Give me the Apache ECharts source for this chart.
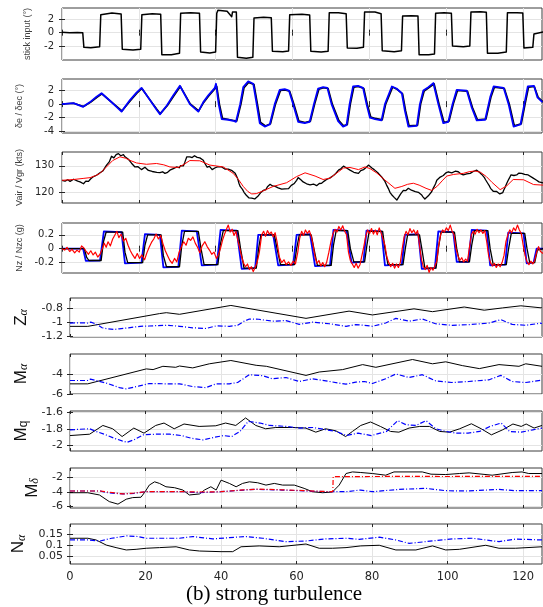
<!DOCTYPE html>
<html><head><meta charset="utf-8">
<script src="https://cdn.jsdelivr.net/npm/echarts@6/dist/echarts.min.js"></script>
<style>html,body{margin:0;padding:0;background:#fff}#c{width:543px;height:607px}</style>
</head><body><div id="c"></div>
<script>
// ---------------- tick labels ----------------
const X_TICKS=[0,20,40,60,80,100,120];
const TICKS_STICK=[-2,0,2];
const TICKS_DE=[-4,-2,0,2];
const TICKS_V=[120,130];
const TICKS_NZ=[-0.2,0,0.2];
const TICKS_ZA=[-1.2,-1,-0.8];
const TICKS_MA=[-6,-4];
const TICKS_MQ=[-2,-1.8,-1.6];
const TICKS_MD=[-6,-4,-2];
const TICKS_NA=[0.05,0.1,0.15];

// ---------------- data: [time (s), value] ----------------
const stickInput=[[0,0.05],[2,0.0],[4,0.02],[5.4,0],[5.7,-2.2],[7.5,-2.25],[9.8,-2.1],[10.1,2.7],[10.4,3.0],[13,2.95],[15.4,2.8],[15.7,-2.5],[16,-2.65],[18.5,-2.6],[20.5,-2.5],[20.8,2.7],[21.1,2.95],[23.5,2.85],[25.7,2.75],[26,-3.3],[26.3,-3.45],[28.5,-3.3],[30.6,-3.1],[30.9,2.9],[31.2,3.2],[33.5,3.0],[35.8,2.9],[36.1,-2.9],[36.4,-3.0],[38.5,-3.05],[40.0,-2.9],[40.3,2.9],[40.6,3.35],[43,3.2],[44.2,2.4],[44.4,3.1],[45.4,3.1],[45.7,-3.7],[46,-3.9],[48,-3.85],[49.7,-3.7],[50,2.2],[50.3,2.45],[52.5,2.3],[54.5,2.25],[54.8,-2.8],[55.1,-2.9],[57.5,-2.85],[59,-2.75],[59.3,2.7],[59.6,2.85],[62.5,2.75],[64.5,2.65],[64.8,-2.8],[65.1,-2.95],[67.5,-2.9],[69.3,-2.8],[69.6,3.0],[69.9,3.15],[72,3.0],[74,2.85],[74.3,-2.3],[74.6,-2.4],[76.8,-2.35],[78.5,-2.2],[78.8,3.1],[79.1,3.3],[81.5,3.1],[83.1,2.85],[83.4,-2.7],[83.7,-2.9],[86.5,-2.85],[88.4,-2.7],[88.7,2.5],[89,2.7],[91,2.55],[92.7,2.5],[93,-3.3],[93.3,-3.45],[95.5,-3.3],[97,-3.2],[97.3,2.9],[97.6,3.1],[99.5,3.0],[101.4,2.9],[101.7,-2.0],[102,-2.2],[104.5,-2.1],[106.2,-2.0],[106.5,3.1],[106.8,3.3],[109,3.15],[110.5,3.05],[110.8,-3.1],[111.1,-3.25],[113.5,-3.1],[115.7,-2.9],[116,3.0],[116.3,3.15],[118.5,3.0],[120,2.95],[120.3,-2.3],[120.6,-2.4],[122.6,-2.2],[122.9,-0.2],[123.3,0.05],[125.3,0.1]];

const elevCmd=[[0,0],[3,0.15],[5.5,-0.4],[7.3,0.3],[9,1.1],[10.3,1.6],[12.5,0.5],[14.2,-0.4],[15.5,-1.1],[17.7,0.6],[19.4,1.7],[20.7,2.4],[22.9,0.6],[24.6,-0.8],[25.5,-1.5],[27.3,-0.2],[29,1.3],[30.7,2.7],[33.3,0],[35.5,-1.1],[36.8,0.3],[38.1,1.3],[39.8,2.4],[40.1,3.0],[40.8,0],[41.6,-2.2],[43.3,-2.3],[44.6,-2.45],[45.3,-2.6],[46.4,0],[47.2,2.5],[48.5,3.35],[49.8,3.0],[50.7,0],[51.5,-2.8],[52.8,-3.3],[54.1,-3.0],[55.4,0],[56.7,2.1],[58,2.2],[59.1,2.0],[60.2,0],[61.5,-2.6],[63.2,-2.8],[64.5,-2.6],[65.6,0],[66.7,2.3],[68,2.5],[69.1,2.4],[70.2,0],[71.9,-2.5],[73.2,-3.3],[74.1,-3.1],[74.9,0],[75.8,2.6],[77.1,2.7],[78.4,2.4],[79.3,0],[80.2,-2.0],[81.5,-2.2],[83.2,-2.4],[84.1,0],[85.9,2.6],[87.1,2.3],[88.5,1.6],[89.3,-1],[90.2,-3.3],[92.4,-3.2],[93.2,0],[94.1,2.0],[95.4,2.5],[96.7,3.1],[98,0],[99.3,-2.8],[100.6,-2.6],[101.7,0],[102.8,2.1],[105.4,2.0],[106.7,-0.5],[108,-2.4],[110.2,-2.3],[111.5,1.0],[112.4,2.6],[115,2.4],[116.3,0],[117.6,-3.3],[119.4,-3.0],[120.4,0],[121.3,2.6],[122.9,2.7],[123.8,1.0],[125.1,0.3]];

const elevAct=[[0,0.02],[3,0.12],[5.6,-0.35],[7.4,0.25],[9.1,1.0],[10.4,1.5],[12.6,0.45],[14.3,-0.35],[15.6,-1.0],[17.8,0.5],[19.5,1.6],[20.8,2.3],[23,0.55],[24.7,-0.75],[25.6,-1.4],[27.4,-0.25],[29.1,1.2],[30.8,2.6],[33.4,0.05],[35.6,-1.0],[36.9,0.25],[38.2,1.2],[39.9,2.3],[40.3,2.6],[41,0],[41.8,-2.1],[43.4,-2.25],[44.7,-2.4],[45.5,-2.5],[46.6,0],[47.4,2.4],[48.6,3.2],[50,2.9],[50.9,0],[51.7,-2.7],[53,-3.2],[54.3,-2.9],[55.6,0],[56.9,2.0],[58.1,2.1],[59.3,1.9],[60.4,0],[61.7,-2.5],[63.3,-2.7],[64.7,-2.5],[65.8,0],[66.9,2.2],[68.1,2.4],[69.3,2.3],[70.4,0],[72.1,-2.4],[73.3,-3.2],[74.3,-3.0],[75.1,0],[76,2.5],[77.2,2.6],[78.6,2.3],[79.5,0],[80.4,-1.9],[81.6,-2.1],[83.4,-2.3],[84.3,0],[86.1,2.5],[87.2,2.2],[88.7,1.5],[89.5,-1],[90.4,-3.2],[92.6,-3.1],[93.4,0],[94.3,1.9],[95.5,2.4],[96.9,3.0],[98.2,0],[99.5,-2.7],[100.8,-2.5],[101.9,0],[103,2.0],[105.6,1.9],[106.9,-0.5],[108.2,-2.3],[110.4,-2.2],[111.7,1.0],[112.6,2.5],[115.2,2.3],[116.5,0],[117.8,-3.2],[119.6,-2.9],[120.6,0],[121.5,2.5],[123,2.6],[124,1.0],[125.3,0.3]];

const vAir=[[0,124.6],[0.8,124.3],[1.5,124.8],[2.1,124.2],[2.5,124.4],[3,125.0],[3.5,124.9],[4.1,124.3],[4.7,124.0],[5.2,123.6],[5.6,123.3],[6.2,124.3],[6.9,124.2],[7.5,125.2],[7.9,125.0],[8.2,126],[8.6,125.8],[9,126.5],[9.5,126.3],[9.9,127.4],[10.3,127.2],[10.7,128.2],[11.2,129.4],[11.6,130.3],[12,130.0],[12.3,131.5],[12.9,133.6],[13.2,132.9],[13.5,133.0],[14.1,134.2],[14.4,133.7],[14.7,134.6],[15,134.0],[15.3,133.8],[15.6,134.4],[16,134.2],[16.4,133.4],[16.8,133.2],[17.2,132.6],[17.7,132.1],[18.1,131.0],[18.5,130.8],[19,129.6],[19.4,129],[19.8,129.7],[20.2,129.4],[20.7,128.6],[21.2,128.7],[21.6,129.5],[22,129.2],[22.5,128.3],[22.9,128.5],[23.5,127.9],[24,128.2],[24.7,127.6],[25.5,127.5],[25.8,128.0],[26.2,127.8],[26.8,127.2],[27.1,127.9],[27.5,127.6],[28.1,128.4],[28.6,128.2],[29,129.0],[29.5,128.8],[29.9,129.6],[30.5,129.3],[30.9,130.1],[31.2,130.3],[31.6,130.0],[32,131.4],[32.5,133.4],[32.9,132.9],[33.3,133.4],[33.9,133.1],[34.5,133.8],[35.2,133.2],[35.9,133.0],[36.4,132.6],[36.8,132.1],[37.1,131.2],[37.4,130.5],[37.8,129.5],[38.1,129],[38.4,129.8],[38.8,129.4],[39.1,128.6],[39.4,128.8],[39.9,129.3],[40.5,129.6],[41,129.1],[41.6,129.6],[42,129.0],[42.4,128.8],[42.9,129.3],[43.3,128.8],[43.8,128.5],[44.3,128.2],[44.7,127.8],[45.1,127.2],[45.5,126.0],[45.8,125],[46.1,123.4],[46.4,122.3],[46.7,121.9],[47,121.2],[47.4,120.1],[47.7,119.8],[48,119.0],[48.4,118.6],[48.7,118.0],[49,117.6],[49.4,117.9],[49.8,117.2],[50.2,117.6],[50.7,117.8],[51,118.6],[51.3,119.0],[51.7,119.9],[52,120.4],[52.4,120.8],[52.8,121.5],[53.1,121.1],[53.5,122.2],[53.8,122.6],[54.2,123.1],[54.5,122.4],[54.8,122.5],[55.2,121.9],[55.5,122.3],[55.9,121.6],[56.3,121.8],[56.8,121.1],[57.2,121.3],[57.6,121.7],[58,121.4],[58.5,120.9],[59,121.5],[59.4,122.0],[59.7,122.7],[60,123.0],[60.4,123.3],[60.7,123.7],[61.1,124.6],[61.5,125.6],[61.9,125.1],[62.2,124.8],[62.5,124.2],[62.8,124.0],[63.2,123.6],[63.7,123.3],[64.1,123.6],[64.6,122.9],[65,123.4],[65.5,123.2],[65.9,122.8],[66.3,122.6],[66.7,123.1],[67,123.4],[67.3,123.0],[67.6,123.5],[68,124.0],[68.3,124.3],[68.6,124.1],[68.9,124.9],[69.4,125.1],[69.8,125.5],[70.2,125.9],[70.7,126.4],[71,126.8],[71.3,127.2],[71.7,127.6],[72,128.4],[72.3,128.2],[72.6,128.9],[72.9,129.4],[73.3,129.9],[73.7,129.3],[74.2,129.1],[74.6,128.8],[75,128.4],[75.5,127.9],[76,127.6],[76.5,127.3],[77.2,127.2],[77.5,127.7],[77.8,128.2],[78.1,128.0],[78.5,128.6],[78.8,129.0],[79.2,129.4],[79.5,129.9],[79.8,130.3],[80.2,129.6],[80.7,129.2],[81.3,128.6],[81.8,128.0],[82.4,127.2],[82.8,126.6],[83.3,125.8],[83.7,125.1],[84.1,124.2],[84.5,122.9],[85,121.5],[85.4,120.1],[85.8,119.3],[86.1,118.6],[86.5,118.2],[86.9,117.5],[87.2,117.2],[87.5,117.8],[87.8,118.6],[88.2,119.5],[88.5,120.2],[88.9,120.8],[89.2,121.3],[89.5,120.7],[89.8,121.0],[90.2,121.6],[90.6,121.5],[91,120.9],[91.5,121.0],[92,120.4],[92.4,120.6],[92.8,120.1],[93.2,119.8],[93.6,119.2],[94,118.4],[94.2,118.0],[94.5,117.6],[94.9,118.3],[95.4,118.8],[95.8,119.5],[96.3,120.4],[96.6,121.4],[97,122.5],[97.3,123.4],[97.6,124.6],[98,125.1],[98.5,125.8],[98.9,126.0],[99.3,126.4],[99.6,127.0],[100,127.4],[100.3,127.1],[100.6,127.8],[101,127.6],[101.5,127.4],[102,127.9],[102.4,128.0],[102.8,127.5],[103.2,127.8],[103.5,127.3],[103.9,127.0],[104.2,126.5],[104.5,126.6],[104.9,127.1],[105.4,127.0],[105.8,126.8],[106.3,127.2],[106.7,127.6],[107.1,127.9],[107.5,128.1],[108,128.4],[108.3,128.0],[108.7,127.6],[109,127.3],[109.3,126.8],[109.7,126.2],[110,125.6],[110.3,124.8],[110.6,124.2],[110.9,123.4],[111.3,122.5],[111.6,121.6],[111.9,121.0],[112.3,120.5],[112.8,120.2],[113.2,120.4],[113.6,119.8],[114,119.5],[114.5,119.3],[114.8,120.0],[115,120.8],[115.2,121.4],[115.4,122.0],[115.6,122.6],[115.8,123.4],[116,123.9],[116.2,124.6],[116.5,125.4],[116.7,126.0],[116.9,126.6],[117.1,127.2],[117.4,126.7],[117.7,126.4],[118,126.9],[118.4,126.6],[118.7,127.0],[119,127.3],[119.4,126.9],[119.7,127.2],[120.1,126.7],[120.5,126.8],[121,126.3],[121.4,126.6],[121.9,126.1],[122.5,125.6],[123,125.2],[123.6,124.6],[124.2,124.0],[124.7,123.8],[125.3,123.6]];

const vGround=[[0,124.6],[3,124.9],[5.5,125.3],[7.3,125.6],[8.7,126.3],[9.9,127.2],[11.5,129.5],[13.2,132.0],[15.1,133.4],[16.5,132.9],[18,131.9],[19.4,131.1],[22,130.6],[24.6,130.9],[26.5,130.4],[28.1,129.6],[30.2,129.4],[31.8,130.6],[33.3,132.0],[35.9,131.9],[38.5,130.3],[42,129.6],[44.6,127.2],[46,124.8],[47.2,122.3],[48.4,120.4],[49.4,119.5],[50.6,119.6],[52,120.4],[55,122.3],[58.5,123.7],[61.1,126],[63.3,127.4],[65.9,126.2],[68,124.9],[69.8,125.4],[72,127.8],[73.3,129.2],[75,129.4],[77.2,128.6],[78.9,129.6],[80.2,129],[82,127.3],[84,124.8],[86.7,121.6],[88.5,122.3],[90,123.1],[91.5,123.5],[93,122.8],[94.8,121.6],[96.3,120.8],[97.8,122.5],[99,124.4],[100.2,126.2],[102,126.8],[104.5,127.2],[106,127.8],[107.5,128.1],[109,127.6],[110.5,126.0],[112,123.8],[114.1,121.1],[115.8,122.5],[117.5,124.9],[120.2,124.8],[122.8,123.0],[125.3,122.8]];

const nzCmd=[[0,0],[5.5,0],[6.2,-0.175],[9.9,-0.17],[10.9,0.25],[15.5,0.24],[16.4,-0.21],[20.7,-0.2],[21.6,0.21],[25.5,0.2],[26.4,-0.27],[30.3,-0.26],[31.2,0.26],[35.1,0.25],[36.4,-0.24],[40.3,-0.23],[41.3,0.27],[45.5,0.26],[46.8,-0.29],[50.3,-0.28],[51.1,0.2],[55,0.2],[56.3,-0.24],[60.2,-0.23],[61.1,0.2],[64.6,0.21],[65.9,-0.25],[69.8,-0.24],[70.7,0.27],[74.1,0.26],[75.4,-0.2],[78.5,-0.19],[79.3,0.26],[83.2,0.25],[84.1,-0.24],[88.5,-0.23],[89.3,0.2],[92.8,0.21],[93.7,-0.29],[97.1,-0.28],[98,0.25],[101.9,0.24],[102.8,-0.19],[105.8,-0.19],[106.7,0.27],[110.6,0.26],[111.5,-0.24],[115.4,-0.23],[116.2,0.23],[120.2,0.22],[121,-0.21],[122.8,-0.2],[123.6,0.0],[125.3,0.0]];

const nzModel=[[0,0],[5.8,0],[6.4,-0.12],[7.0,-0.17],[10.2,-0.17],[10.8,0.1],[11.5,0.24],[15.8,0.24],[16.4,-0.05],[17.1,-0.2],[21,-0.2],[21.6,0.05],[22.3,0.2],[25.8,0.2],[26.4,-0.1],[27.2,-0.26],[30.6,-0.26],[31.2,0.05],[31.9,0.25],[35.5,0.25],[36.2,0.0],[37,-0.23],[40.6,-0.23],[41.2,0.05],[42,0.26],[45.8,0.26],[46.5,0.0],[47.4,-0.28],[50.6,-0.28],[51.2,0.0],[51.8,0.2],[55.3,0.2],[56,0.0],[56.9,-0.23],[60.5,-0.23],[61.1,0.0],[61.8,0.2],[64.9,0.2],[65.6,0.0],[66.5,-0.24],[70.1,-0.24],[70.7,0.05],[71.4,0.26],[74.4,0.26],[75.1,0.0],[76,-0.19],[78.8,-0.19],[79.4,0.05],[80,0.25],[83.5,0.25],[84.1,0.0],[84.9,-0.23],[88.8,-0.23],[89.4,0.0],[90,0.2],[93.1,0.2],[93.7,0.0],[94.5,-0.28],[97.4,-0.28],[98,0.0],[98.7,0.24],[102.2,0.24],[102.8,0.0],[103.5,-0.19],[106.1,-0.19],[106.7,0.05],[107.4,0.26],[110.9,0.26],[111.5,0.0],[112.3,-0.23],[115.7,-0.23],[116.3,0.0],[117,0.22],[120.5,0.22],[121.1,0.0],[121.8,-0.2],[123.1,-0.2],[123.8,-0.02],[125.3,0.0]];

const nzMeas=[[0,0],[0.7,-0.02],[1.3,0.02],[2,-0.04],[2.6,-0.01],[3.3,-0.06],[3.9,-0.02],[4.5,-0.05],[5.1,0.04],[5.7,0.01],[6.3,-0.04],[6.9,-0.08],[7.5,-0.03],[8.1,-0.09],[8.7,-0.05],[9.3,-0.12],[9.9,-0.08],[10.5,0.0],[11,0.08],[11.5,0.02],[12,0.1],[12.6,0.04],[13.2,0.14],[13.7,0.19],[14.3,0.25],[14.8,0.16],[15.4,0.21],[16,0.11],[16.6,0.15],[17.2,0.05],[17.8,-0.03],[18.4,-0.09],[19,-0.14],[19.6,-0.07],[20.2,-0.14],[20.8,-0.09],[21.5,-0.16],[22.1,-0.06],[22.7,0.02],[23.3,0.09],[23.9,0.14],[24.5,0.21],[25.1,0.14],[25.7,0.19],[26.3,0.07],[26.9,-0.03],[27.5,-0.1],[28.1,-0.17],[28.7,-0.21],[29.3,-0.14],[29.9,-0.19],[30.5,-0.05],[31.1,0.03],[31.7,0.1],[32.3,0.05],[32.9,0.15],[33.5,0.12],[34.1,0.17],[34.7,0.08],[35.3,0.02],[35.9,-0.06],[36.5,0.04],[37.2,0.1],[37.8,0.03],[38.4,-0.02],[39,-0.08],[39.6,-0.05],[40.2,-0.14],[40.8,-0.08],[41.4,0.03],[41.9,0.14],[42.4,0.22],[42.9,0.29],[43.3,0.34],[43.8,0.24],[44.3,0.28],[44.8,0.19],[45.3,0.25],[45.8,0.12],[46.3,0.0],[46.8,-0.12],[47.3,-0.21],[47.8,-0.26],[48.3,-0.22],[48.8,-0.3],[49.3,-0.26],[49.8,-0.33],[50.3,-0.27],[50.8,-0.2],[51.4,-0.05],[52,0.2],[52.5,0.25],[53,0.18],[53.5,0.26],[54,0.21],[54.5,0.24],[55,0.17],[55.5,0.23],[56,0.1],[56.6,-0.12],[57.2,-0.2],[57.8,-0.16],[58.4,-0.23],[59,-0.19],[59.6,-0.24],[60.2,-0.18],[60.8,-0.22],[61.4,-0.05],[61.9,0.15],[62.4,0.25],[62.9,0.19],[63.4,0.27],[63.9,0.22],[64.4,0.26],[64.9,0.18],[65.4,0.05],[65.9,-0.12],[66.4,-0.21],[66.9,-0.17],[67.4,-0.25],[67.9,-0.2],[68.4,-0.26],[68.9,-0.2],[69.5,-0.05],[70.1,0.12],[70.6,0.22],[71.1,0.28],[71.6,0.24],[72.1,0.32],[72.6,0.27],[73.1,0.33],[73.6,0.25],[74.1,0.2],[74.6,-0.05],[75.1,-0.17],[75.6,-0.22],[76.1,-0.27],[76.6,-0.21],[77.1,-0.28],[77.6,-0.23],[78.1,-0.1],[78.6,0.03],[79.1,0.18],[79.6,0.27],[80.1,0.22],[80.6,0.29],[81.1,0.21],[81.6,0.27],[82.1,0.2],[82.6,0.3],[83.1,0.23],[83.6,0.25],[84.1,0.05],[84.6,-0.12],[85.1,-0.2],[85.6,-0.26],[86.1,-0.21],[86.6,-0.28],[87.1,-0.22],[87.6,-0.27],[88.1,-0.2],[88.6,0.0],[89.1,0.17],[89.6,0.25],[90.1,0.2],[90.6,0.29],[91.1,0.23],[91.6,0.27],[92.1,0.21],[92.6,0.26],[93.1,0.05],[93.6,-0.15],[94.1,-0.26],[94.6,-0.3],[95.1,-0.24],[95.6,-0.34],[96.1,-0.27],[96.6,-0.31],[97.1,-0.25],[97.6,-0.18],[98.1,0.05],[98.6,0.2],[99.1,0.27],[99.6,0.24],[100.1,0.3],[100.6,0.26],[101.1,0.34],[101.6,0.25],[102.1,0.2],[102.6,0.0],[103.1,-0.1],[103.6,-0.17],[104.1,-0.13],[104.6,-0.19],[105.1,-0.15],[105.6,-0.18],[106.1,0.02],[106.6,0.2],[107.1,0.25],[107.6,0.21],[108.1,0.28],[108.6,0.23],[109.1,0.27],[109.6,0.22],[110.1,0.26],[110.6,0.1],[111.1,-0.1],[111.6,-0.2],[112.1,-0.25],[112.6,-0.21],[113.1,-0.27],[113.6,-0.22],[114.1,-0.26],[114.6,-0.2],[115.1,-0.1],[115.6,0.1],[116.1,0.2],[116.6,0.27],[117.1,0.23],[117.6,0.3],[118.1,0.26],[118.6,0.34],[119.1,0.27],[119.6,0.22],[120.1,0.05],[120.6,-0.1],[121.1,-0.19],[121.6,-0.23],[122.1,-0.18],[122.6,-0.22],[123.1,-0.17],[123.6,-0.05],[124.1,0.03],[124.6,-0.04],[125.3,-0.07]];

const zAlphaTrue=[[0,-1.06],[4.7,-1.06],[23.7,-0.88],[25.5,-0.867],[29,-0.89],[42.6,-0.765],[62.5,-0.947],[73.9,-0.845],[80.1,-0.899],[91.1,-0.813],[96,-0.853],[104.4,-0.787],[109.7,-0.832],[114.5,-0.8],[119.4,-0.77],[125,-0.8]];
const zAlphaEst=[[0,-1.013],[2,-1.01],[4.7,-1.013],[5.5,-1.0],[7,-1.03],[8.5,-1.08],[10,-1.095],[11.8,-1.103],[13,-1.095],[15.5,-1.08],[18.6,-1.059],[21,-1.055],[23.3,-1.049],[26,-1.045],[29,-1.059],[32.5,-1.08],[36,-1.09],[38.7,-1.053],[42.2,-1.059],[44.4,-1.045],[46,-0.99],[47.5,-0.956],[50,-0.96],[53.6,-0.987],[57.2,-0.978],[60.7,-1.032],[64.3,-1.0],[68.7,-1.023],[73.1,-1.059],[75.7,-1.036],[78,-1.045],[80.1,-1.059],[83.6,-1.013],[86.3,-0.947],[89.8,-0.987],[93.3,-0.956],[96.8,-1.023],[101.2,-1.045],[105.6,-1.036],[111,-1.013],[114.1,-0.965],[117.1,-1.032],[120.7,-1.045],[125,-1.013]];

const mAlphaTrue=[[0,-4.985],[4.7,-4.985],[20.2,-3.49],[22,-3.56],[24.6,-3.23],[28,-3.33],[29,-3.2],[32.5,-3.39],[36.9,-2.98],[42.6,-2.65],[49.3,-3.13],[52,-3.23],[62.5,-4.14],[66,-3.8],[72.2,-3.56],[77.5,-3.06],[81,-3.33],[90.7,-2.55],[96,-2.98],[99.5,-2.78],[103.9,-3.16],[108.4,-3.46],[113.6,-3.06],[118.9,-3.23],[120.7,-2.98],[125,-3.23]];
const mAlphaEst=[[0,-4.65],[4.7,-4.65],[5.4,-4.51],[9.6,-4.91],[13.1,-5.36],[14.9,-5.49],[18.4,-5.19],[21,-4.95],[25.4,-4.98],[29,-4.98],[32.5,-5.26],[36,-5.36],[38.7,-4.98],[42.2,-4.98],[44.4,-4.85],[47.5,-4.07],[51,-4.17],[53.6,-4.48],[57.2,-4.35],[60.7,-4.75],[64.3,-4.48],[68.7,-4.75],[73.1,-5.02],[75.7,-4.81],[78,-4.75],[80.1,-4.95],[83.6,-4.48],[86.3,-4.0],[89.8,-4.35],[93.3,-4.07],[96.8,-4.68],[101.2,-4.85],[105.6,-4.75],[111,-4.58],[114.1,-4.14],[117.1,-4.75],[120.7,-4.85],[125,-4.61]];

const mqTrue=[[0,-1.884],[5.2,-1.867],[8.7,-1.759],[11.3,-1.8],[13.8,-1.896],[16.9,-1.791],[19.6,-1.854],[22.7,-1.759],[24.9,-1.729],[27.6,-1.8],[30.2,-1.741],[34.2,-1.771],[38.6,-1.763],[41.2,-1.729],[43.9,-1.759],[46.5,-1.666],[49.2,-1.759],[51.8,-1.8],[54.5,-1.784],[58.9,-1.784],[62.4,-1.791],[65.1,-1.842],[67.7,-1.8],[70.4,-1.825],[73,-1.896],[74.8,-1.833],[77,-1.759],[79.6,-1.716],[82.2,-1.771],[84.9,-1.833],[87.1,-1.842],[89.8,-1.791],[92.6,-1.771],[95.2,-1.771],[97.9,-1.833],[100.5,-1.842],[103.2,-1.8],[106.3,-1.738],[108.9,-1.8],[111.6,-1.875],[114.6,-1.8125],[117.3,-1.741],[119.5,-1.771],[120.8,-1.741],[122.9,-1.791],[125,-1.759]];
const mqEst=[[0,-1.8125],[5.2,-1.8],[6.9,-1.833],[9.5,-1.875],[11.7,-1.917],[13.8,-1.95],[15.1,-1.967],[16.9,-1.9375],[19.4,-1.875],[22.9,-1.867],[26.4,-1.867],[29.5,-1.884],[32.1,-1.917],[35.2,-1.9375],[37.9,-1.909],[40.6,-1.884],[42.8,-1.896],[45,-1.833],[47.2,-1.709],[50.3,-1.729],[52.9,-1.759],[57.3,-1.771],[60.9,-1.791],[64.4,-1.784],[67.9,-1.8125],[70.5,-1.833],[73.2,-1.884],[76.3,-1.854],[79.8,-1.884],[83.8,-1.833],[86.8,-1.7],[89,-1.75],[91.6,-1.759],[94.3,-1.7],[96.9,-1.8],[99.6,-1.833],[102.2,-1.854],[105.4,-1.854],[108.5,-1.833],[111.2,-1.771],[114.2,-1.729],[116.4,-1.833],[119.5,-1.842],[122.6,-1.8125],[125,-1.791]];

const mDeltaTrue=[[0,-4.1],[4.7,-4.1],[7.8,-4.41],[10.4,-5.32],[12.7,-5.67],[14.9,-4.99],[16.6,-4.77],[18.8,-4.72],[19.9,-3.96],[21,-3.05],[22.4,-2.6],[23.7,-2.82],[25.4,-3.28],[27.7,-3.41],[29.9,-3.73],[31.6,-4.41],[34.3,-4.27],[35.6,-3.73],[37.3,-3.28],[38.7,-3.73],[40,-2.37],[42.2,-2.82],[44,-3.28],[45.7,-2.82],[47.5,-2.6],[49.7,-2.73],[51.9,-3.05],[54.1,-2.82],[56.3,-3.05],[59.4,-3.05],[62,-3.5],[64.2,-3.96],[66.9,-4.1],[69.5,-4.0],[71.3,-3.05],[73.1,-1.46],[74.8,-1.24],[77,-1.32],[80.1,-1.46],[83.6,-1.69],[85.8,-1.24],[93.3,-1.24],[95.6,-1.55],[99.5,-1.6],[103.1,-1.46],[105.7,-1.37],[111.8,-1.69],[117.1,-1.32],[119.7,-1.24],[121.5,-1.46],[125,-1.46]];
const mDeltaEst=[[0,-3.86],[8,-3.86],[10,-4.1],[14,-4.27],[17,-4.18],[20.2,-3.96],[25,-3.96],[30,-3.96],[34.3,-4.1],[40,-3.96],[46,-3.73],[49,-3.64],[56.3,-3.73],[62.5,-3.86],[68,-3.96],[73,-3.96],[77,-3.73],[80.1,-3.96],[87.2,-3.64],[94.2,-3.5],[99.5,-3.82],[105.1,-3.86],[113.6,-3.64],[117.8,-3.82],[125,-3.82]];
const mDeltaEst2=[[0,-3.86],[8,-3.86],[10,-4.0],[14,-4.27],[17,-4.14],[20,-3.96],[30,-3.96],[35,-4.0],[40,-3.96],[46,-3.7],[50,-3.6],[56,-3.7],[62,-3.8],[66,-3.9],[69.6,-3.96],[69.7,-1.9],[80,-1.87],[90,-1.85],[100,-1.87],[110,-1.84],[125,-1.86]];

const nAlphaTrue=[[0,0.133],[4.7,0.133],[6.9,0.125],[9.6,0.101],[12.2,0.089],[14.9,0.078],[17.5,0.081],[20.2,0.086],[23.7,0.089],[28.1,0.093],[31.6,0.078],[34.3,0.073],[40,0.07],[43.1,0.07],[45.3,0.093],[50.1,0.097],[55.4,0.093],[62.5,0.106],[66,0.086],[69.5,0.086],[73.1,0.089],[77,0.097],[81.9,0.1],[86.3,0.078],[91.6,0.078],[96,0.097],[99.5,0.078],[103.1,0.081],[110.1,0.1],[113.6,0.086],[118,0.086],[125,0.093]];
const nAlphaEst=[[0,0.125],[4.7,0.125],[8,0.12],[11,0.133],[15,0.144],[18,0.141],[20.2,0.133],[25,0.133],[29,0.133],[32.5,0.141],[37.8,0.13],[42.2,0.136],[46.6,0.141],[51,0.133],[57.2,0.117],[62.5,0.12],[67.8,0.13],[73.1,0.133],[76.6,0.128],[81.9,0.138],[86.3,0.125],[89.8,0.109],[94.2,0.117],[101.3,0.13],[106.6,0.133],[113.6,0.117],[118,0.129],[125,0.125]];

// ---------------- layout / styles ----------------
const BLACK='#000000', BLUE='#0000ff', RED='#ff0000';
const DASHDOT=[5,2,1,2];
const panels=[
 {grid:{left:62,top:8,height:52},min:-4.1,max:3.7,ticks:TICKS_STICK,name:'stick input (°)',gap:30,upper:true,
  lines:[{d:stickInput,c:BLACK,w:1.5}]},
 {grid:{left:62,top:79,height:54},min:-4.25,max:3.7,ticks:TICKS_DE,name:'δe / δec (°)',gap:38,upper:true,
  lines:[{d:elevAct,c:BLACK,w:1.6},{d:elevCmd,c:BLUE,w:1.8}]},
 {grid:{left:62,top:152,height:51},min:116.1,max:135.2,ticks:TICKS_V,name:'Vair / Vgr (kts)',gap:36,upper:true,
  lines:[{d:vAir,c:BLACK,w:1.3},{d:vGround,c:RED,w:1}]},
 {grid:{left:62,top:223,height:50},min:-0.35,max:0.37,ticks:TICKS_NZ,name:'Nz / Nzc (g)',gap:38,upper:true,
  lines:[{d:nzCmd,c:BLUE,w:1.8},{d:nzModel,c:BLACK,w:1.3},{d:nzMeas,c:RED,w:1.2}]},
 {grid:{left:70,top:298,height:39},min:-1.21,max:-0.66,ticks:TICKS_ZA,name:'Z{s|α}',gap:40,
  lines:[{d:zAlphaTrue,c:BLACK,w:1},{d:zAlphaEst,c:BLUE,w:1.2,dash:true}]},
 {grid:{left:70,top:354,height:40},min:-6,max:-2,ticks:TICKS_MA,name:'M{s|α}',gap:40,
  lines:[{d:mAlphaTrue,c:BLACK,w:1},{d:mAlphaEst,c:BLUE,w:1.2,dash:true}]},
 {grid:{left:70,top:411,height:40},min:-2.075,max:-1.58,ticks:TICKS_MQ,name:'M{q|q}',gap:40,
  lines:[{d:mqTrue,c:BLACK,w:1},{d:mqEst,c:BLUE,w:1.2,dash:true}]},
 {grid:{left:70,top:468,height:40},min:-6.2,max:-0.7,ticks:TICKS_MD,name:'M{s|δ}',gap:27,
  lines:[{d:mDeltaTrue,c:BLACK,w:1},{d:mDeltaEst,c:BLUE,w:1.2,dash:true},{d:mDeltaEst2,c:RED,w:1.2,dash:true}]},
 {grid:{left:70,top:524,height:40},min:0.012,max:0.2,ticks:TICKS_NA,name:'N{s|α}',gap:42,split:true,
  lines:[{d:nAlphaTrue,c:BLACK,w:1},{d:nAlphaEst,c:BLUE,w:1.2,dash:true}]}
];

const N=panels.length;
const grid=[],xAxis=[],yAxis=[],series=[];
const AX='#262626', GRIDC='#e4e4e4';
panels.forEach((p,i)=>{
  grid.push(Object.assign({right:1,show:true,borderColor:'#3c3c3c',borderWidth:1},p.grid));
});
panels.forEach((p,i)=>{
  xAxis.push({gridIndex:i,type:'value',min:0,max:125,position:'bottom',
    axisLine:{show:false},
    axisTick:{show:true,inside:true,length:3,customValues:X_TICKS,lineStyle:{color:AX}},
    axisLabel:{show:i===N-1,customValues:X_TICKS,margin:7,color:AX,fontSize:11.5,fontFamily:'DejaVu Sans',showMinLabel:true,showMaxLabel:true},
    splitLine:{show:true,lineStyle:{color:GRIDC,width:1}}});
});
panels.forEach((p,i)=>{
  xAxis.push({gridIndex:i,type:'value',min:0,max:125,position:'top',
    axisLine:{show:false},
    axisTick:{show:true,inside:true,length:3,customValues:X_TICKS,lineStyle:{color:AX}},
    axisLabel:{show:false},splitLine:{show:false}});
});
const labelStyle=(p)=>({margin:p.upper?8:7,color:AX,fontSize:p.upper?10:11,
      fontFamily:'DejaVu Sans',showMinLabel:true,showMaxLabel:true,hideOverlap:false});
panels.forEach((p,i)=>{
  const nameStyle=p.upper?
    {fontSize:9,fontFamily:'Liberation Sans',color:'#404040'}:
    {fontSize:17,fontFamily:'Liberation Sans',color:'#111',
     rich:{s:{fontSize:12,fontStyle:'italic',fontFamily:'Liberation Serif',color:'#111',verticalAlign:'bottom',padding:[6,0,0,0]},
           q:{fontSize:12,fontFamily:'Liberation Sans',color:'#111',verticalAlign:'bottom',padding:[6,0,0,0]}}};
  // when labels are too close together, the odd ones go on a second, label-only axis
  const mainLabels=p.split?p.ticks.filter((v,k)=>k%2===0):p.ticks;
  yAxis.push({gridIndex:i,type:'value',min:p.min,max:p.max,position:'left',
    name:p.name,nameLocation:'middle',nameRotate:90,nameGap:p.gap,nameTextStyle:nameStyle,
    axisLine:{show:false},
    axisTick:{show:true,inside:true,length:3,customValues:p.ticks,lineStyle:{color:AX}},
    axisLabel:Object.assign({customValues:mainLabels},labelStyle(p)),
    splitLine:{show:true,lineStyle:{color:GRIDC,width:1}}});
});
panels.forEach((p,i)=>{
  yAxis.push({gridIndex:i,type:'value',min:p.min,max:p.max,position:'right',
    axisLine:{show:false},
    axisTick:{show:true,inside:true,length:3,customValues:p.ticks,lineStyle:{color:AX}},
    axisLabel:{show:false},splitLine:{show:false}});
});
panels.forEach((p,i)=>{
  if(!p.split) return;
  const extra=p.ticks.filter((v,k)=>k%2===1);
  yAxis.push({gridIndex:i,type:'value',min:p.min,max:p.max,position:'left',offset:0,
    axisLine:{show:false},axisTick:{show:false},splitLine:{show:false},
    axisLabel:Object.assign({customValues:extra},labelStyle(p))});
});
panels.forEach((p,i)=>{
  p.lines.forEach(l=>{
    series.push({type:'line',xAxisIndex:i,yAxisIndex:i,data:l.d,showSymbol:false,symbol:'none',
      clip:true,sampling:null,lineStyle:{color:l.c,width:l.w,type:l.dash?DASHDOT:'solid',join:'round'},silent:true});
  });
});

const chart=echarts.init(document.getElementById('c'),null,{renderer:'canvas'});
chart.setOption({
  animation:false,backgroundColor:'#ffffff',
  grid,xAxis,yAxis,series,
  graphic:[{type:'text',left:186,top:584,style:{text:'(b) strong turbulence',font:'21px "Liberation Serif"',fill:'#000'}}]
});
</script></body></html>
